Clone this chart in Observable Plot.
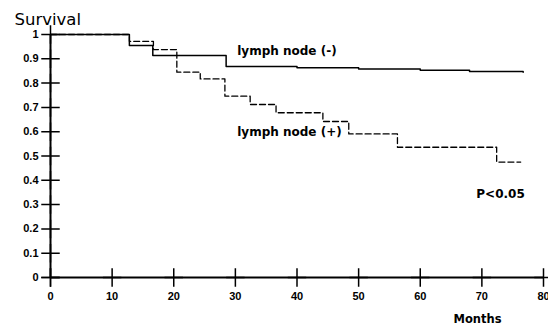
<!DOCTYPE html>
<html><head><meta charset="utf-8">
<script src="https://cdn.jsdelivr.net/npm/d3@7"></script>
<script src="https://cdn.jsdelivr.net/npm/@observablehq/plot@0.6"></script>
<style>body{margin:0;background:#fff}</style>
</head><body><div id="chart"></div>
<script>
// Lymph node (-) Kaplan-Meier curve
const negMonths = [0, 12.8, 16.6, 28.5, 40, 50, 60, 68, 76.7];
const negSurv   = [1, 0.955, 0.914, 0.868, 0.863, 0.858, 0.853, 0.848, 0.845];
// Lymph node (+) Kaplan-Meier curve
const posMonths = [0, 12.8, 16.7, 20.5, 24.3, 28.3, 32.4, 36.6, 44.2, 48.4, 56.3, 72.4, 76.3];
const posSurv   = [1, 0.972, 0.938, 0.845, 0.817, 0.746, 0.712, 0.678, 0.642, 0.591, 0.536, 0.475, 0.475];
const xTicks = [0, 10, 20, 30, 40, 50, 60, 70, 80];
const yTicks = [0, 0.1, 0.2, 0.3, 0.4, 0.5, 0.6, 0.7, 0.8, 0.9, 1];
const annoText = ["lymph node (-)", "lymph node (+)", "P<0.05"];
const annoX = [30.3, 30.3, 69.1];
const annoY = [0.932, 0.597, 0.342];

const neg = negMonths.map((m, i) => ({month: m, surv: negSurv[i]}));
const pos = posMonths.map((m, i) => ({month: m, surv: posSurv[i]}));
const anno = annoText.map((t, i) => ({text: t, x: annoX[i], y: annoY[i]}));

const chart = Plot.plot({
  width: 548,
  height: 327,
  marginLeft: 50,
  marginRight: 5,
  marginTop: 34,
  marginBottom: 50,
  style: {fontFamily: "Liberation Sans, Arial, sans-serif", fontSize: "11px", background: "#fff", color: "#000"},
  x: {domain: [0, 80]},
  y: {domain: [0, 1]},
  marks: [
    Plot.axisX({ticks: xTicks, tickSize: 0, tickPadding: 15, fontWeight: "bold", label: null}),
    Plot.axisY({ticks: yTicks, tickSize: 0, tickPadding: 12, fontWeight: "bold", label: null, tickFormat: d => String(d)}),
    Plot.ruleX([0], {strokeWidth: 2}),
    Plot.ruleY([0], {strokeWidth: 2}),
    // cross-shaped ticks straddling the axis lines
    Plot.dot(xTicks, {x: d => d, y: () => 0, r: 6, symbol: "plus", stroke: "#000", strokeWidth: 1.5}),
    Plot.dot(yTicks, {x: () => 0, y: d => d, r: 6, symbol: "plus", stroke: "#000", strokeWidth: 1.5}),
    Plot.line(neg, {x: "month", y: "surv", curve: "step-after", stroke: "#000", strokeWidth: 1.5}),
    Plot.line(pos, {x: "month", y: "surv", curve: "step-after", stroke: "#000", strokeWidth: 1.3, strokeDasharray: "6,3"}),
    Plot.text(anno, {x: "x", y: "y", text: "text", textAnchor: "start", lineAnchor: "middle", fontFamily: "DejaVu Sans", fontWeight: "bold", fontSize: 12}),
    Plot.text(["Survival"], {frameAnchor: "top-left", dx: -36, dy: -15, textAnchor: "start", lineAnchor: "middle", fontFamily: "DejaVu Sans", fontSize: 16.5}),
    Plot.text(["Months"], {frameAnchor: "bottom-left", dx: 403, dy: 42, textAnchor: "start", lineAnchor: "middle", fontFamily: "DejaVu Sans", fontWeight: "bold", fontSize: 11.5})
  ]
});
document.getElementById("chart").appendChild(chart);
</script>
</body></html>
